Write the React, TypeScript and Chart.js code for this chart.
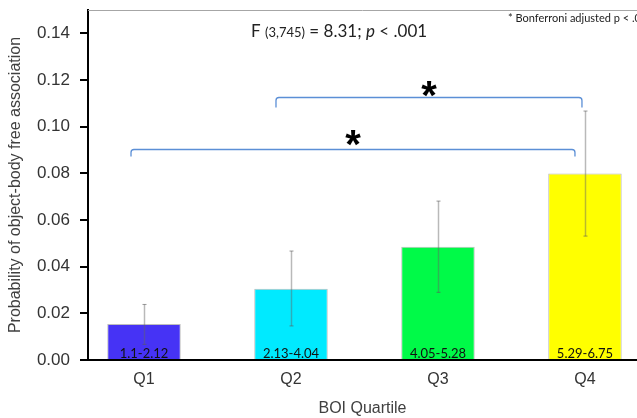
import React, { useEffect, useRef } from "react";
import { Chart, registerables } from "chart.js";

Chart.register(...registerables);

const quartiles = ["Q1", "Q2", "Q3", "Q4"];
const boiRanges = ["1.1-2.12", "2.13-4.04", "4.05-5.28", "5.29-6.75"];
const probability = [0.0154, 0.0305, 0.0485, 0.0799];
const ciLower = [0.0067, 0.0146, 0.029, 0.0531];
const ciUpper = [0.0238, 0.0467, 0.0681, 0.1067];
const barColors = ["#4633f5", "#00eaff", "#00fa48", "#ffff00"];
const yTickValues = [0, 0.02, 0.04, 0.06, 0.08, 0.1, 0.12, 0.14];
const comparisons = [
  { from: 1, to: 3, label: "*" },
  { from: 0, to: 3, label: "*" },
];

const annotationPlugin = {
  id: "annotations",
  beforeDatasetsDraw(chart: any) {
    const { ctx, chartArea } = chart;
    ctx.save();
    ctx.strokeStyle = "#a6a6a6";
    ctx.lineWidth = 1;
    ctx.beginPath();
    ctx.moveTo(chartArea.left, chartArea.top + 0.5);
    ctx.lineTo(chart.width, chartArea.top + 0.5);
    ctx.stroke();
    ctx.restore();
  },
  afterDatasetsDraw(chart: any) {
    const { ctx } = chart;
    const xs = chart.scales.x;
    const ys = chart.scales.y;
    ctx.save();
    // error bars
    quartiles.forEach((_, i) => {
      const px = Math.round(xs.getPixelForValue(i)) + 0.5;
      const yl = ys.getPixelForValue(ciLower[i]);
      const yh = ys.getPixelForValue(ciUpper[i]);
      ctx.strokeStyle = "rgba(100,100,100,0.45)";
      ctx.lineWidth = 1.5;
      ctx.beginPath();
      ctx.moveTo(px, yh);
      ctx.lineTo(px, yl);
      ctx.stroke();
      ctx.strokeStyle = "rgba(90,90,90,0.6)";
      ctx.lineWidth = 1;
      ctx.beginPath();
      ctx.moveTo(px - 2, yh);
      ctx.lineTo(px + 2, yh);
      ctx.moveTo(px - 2, yl);
      ctx.lineTo(px + 2, yl);
      ctx.stroke();
    });
    // range labels
    ctx.fillStyle = "#111";
    ctx.font = "13px Lato";
    ctx.textAlign = "center";
    ctx.textBaseline = "alphabetic";
    quartiles.forEach((_, i) => {
      ctx.fillText(boiRanges[i], xs.getPixelForValue(i), ys.getPixelForValue(0) - 2);
    });
    // F statistic
    ctx.textAlign = "left";
    ctx.fillStyle = "#222";
    let cx = 251;
    const base = 37;
    const parts: [string, string][] = [
      ["F ", "17px Lato"],
      ["(3,745)", "13px Lato"],
      [" = 8.31; ", "17px Lato"],
      ["p", "italic 17px Lato"],
      [" < .001", "17px Lato"],
    ];
    parts.forEach(([t, f]) => {
      ctx.font = f;
      ctx.fillText(t, cx, base);
      cx += ctx.measureText(t).width;
    });
    // note
    ctx.font = "11px Lato";
    ctx.fillText("* Bonferroni adjusted p < .01", 508, 22);
    // brackets
    const bracketLevels = [
      { y: 0.1126, drop: 10, x0: -15, x1: -3, starY: 89 },
      { y: 0.0903, drop: 7, x0: -13, x1: -10, starY: 138 },
    ];
    comparisons.forEach((c, k) => {
      const b = bracketLevels[k];
      const xa = xs.getPixelForValue(c.from) + b.x0;
      const xb = xs.getPixelForValue(c.to) + b.x1;
      const yb = Math.round(ys.getPixelForValue(b.y)) + 0.5;
      ctx.strokeStyle = "#5b8fd6";
      ctx.lineWidth = 1.3;
      ctx.beginPath();
      ctx.moveTo(xa, yb + b.drop);
      ctx.arcTo(xa, yb, xa + 4, yb, 3);
      ctx.arcTo(xb, yb, xb, yb + 4, 3);
      ctx.lineTo(xb, yb + b.drop);
      ctx.stroke();
      ctx.fillStyle = "#000";
      ctx.font = "bold 40px 'Liberation Sans'";
      ctx.textAlign = "center";
      const m = ctx.measureText(c.label);
      const cyy = b.starY + (m.actualBoundingBoxAscent - m.actualBoundingBoxDescent) / 2;
      ctx.fillText(c.label, (xa + xb) / 2, cyy);
      ctx.textAlign = "left";
    });
    ctx.restore();
  },
};

export default function App() {
  const ref = useRef<HTMLCanvasElement>(null);
  useEffect(() => {
    document.body.style.margin = "0";
    const chart = new Chart(ref.current as HTMLCanvasElement, {
      type: "bar",
      data: {
        datasets: [
          {
            data: probability.map((v, i) => ({ x: i, y: v })) as any,
            backgroundColor: barColors,
            borderColor: "#bdbdbd",
            borderWidth: 1,
            barPercentage: 0.5,
            categoryPercentage: 1,
          },
        ],
      },
      options: {
        responsive: false,
        animation: false,
        layout: { padding: { top: 10, left: 0, right: 0, bottom: 0 } },
        plugins: {
          legend: { display: false },
          tooltip: { enabled: false },
        },
        scales: {
          x: {
            type: "linear",
            min: -0.381,
            max: 3.354,
            offset: false,
            afterFit: (s: any) => {
              s.height = 58;
              s.paddingLeft = 0;
              s.paddingRight = 0;
            },
            afterBuildTicks: (s: any) => {
              s.ticks = quartiles.map((_, i) => ({ value: i }));
            },
            ticks: {
              callback: (v: any) => quartiles[v as number] ?? "",
              autoSkip: false,
              maxRotation: 0,
              padding: 10,
              color: "#333",
              font: { family: "'Liberation Sans'", size: 16 },
            },
            grid: { display: false, drawTicks: false },
            border: { display: true, color: "#000", width: 2 },
            title: {
              display: true,
              text: "BOI Quartile",
              color: "#404040",
              font: { family: "'Liberation Sans'", size: 16 },
              padding: { top: 0, bottom: 0 },
            },
          },
          y: {
            min: 0,
            max: 0.15,
            afterFit: (s: any) => {
              s.width = 88;
              s.paddingTop = 0;
              s.paddingBottom = 0;
            },
            afterBuildTicks: (s: any) => {
              s.ticks = yTickValues.map((v) => ({ value: v }));
            },
            ticks: {
              callback: (v: any) => Number(v).toFixed(2),
              autoSkip: false,
              padding: 10,
              color: "#333",
              font: { family: "'Liberation Sans'", size: 17 },
            },
            grid: {
              display: true,
              drawOnChartArea: false,
              drawTicks: true,
              tickLength: 8,
              color: "#000",
              lineWidth: 2,
            },
            border: { display: true, color: "#000", width: 2 },
            title: {
              display: true,
              text: "Probability of object-body free association",
              color: "#404040",
              font: { family: "'Liberation Sans'", size: 16 },
              padding: { top: 6, bottom: 0 },
            },
          },
        },
      },
      plugins: [annotationPlugin],
    });
    return () => chart.destroy();
  }, []);
  return <canvas ref={ref} width={637} height={418} style={{ display: "block" }} />;
}
